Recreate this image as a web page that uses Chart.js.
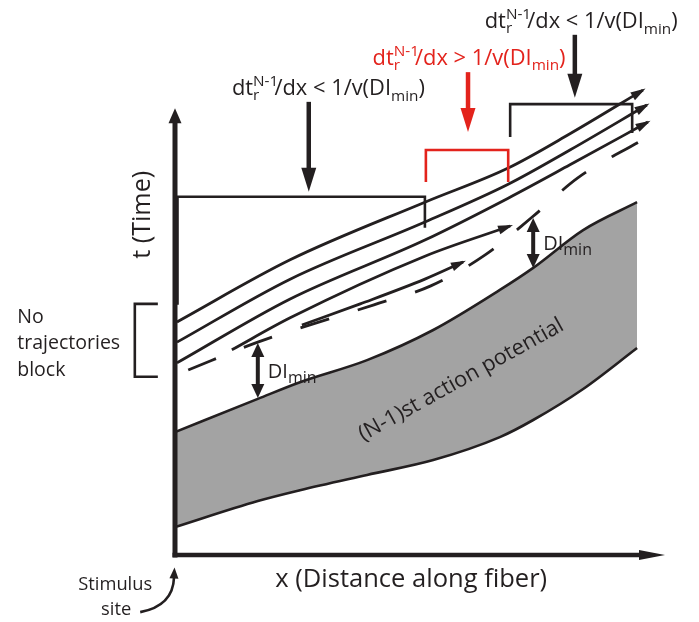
<!DOCTYPE html>
<html>
<head>
<meta charset="utf-8">
<title>Trajectories, DI min</title>
<script src="https://cdn.jsdelivr.net/npm/chart.js@4.4.1/dist/chart.umd.min.js"></script>
<style>
  html, body { margin: 0; padding: 0; background: #fff; }
  #chart { display: block; }
</style>
</head>
<body>
<canvas id="chart" width="699" height="622"></canvas>
<script>
// --- DATA (arbitrary units: x = distance along fiber, t = time) ---

// (N-1)st action potential band
const bandX      = [0, 1.69, 2.55, 3.92, 5.27, 6.63, 7.31, 8.33, 9.43];
const bandTop    = [2.73, 3.47, 3.84, 4.33, 5.00, 5.89, 6.38, 7.22, 7.84];
const bandBottom = [0.62, 1.20, 1.44, 1.78, 2.11, 2.62, 3.00, 3.69, 4.60];

// DI_min boundary (dashed)
const limitX = [0.27, 1.69, 4.06, 5.22, 6.33, 7.29, 8.22, 9.53];
const limitT = [4.11, 4.73, 5.56, 5.98, 6.67, 7.51, 8.38, 9.22];

// trajectories (all end with an arrow)
const trajAX = [0.04, 2.35, 5.10, 6.80, 8.06, 9.55];
const trajAT = [5.18, 6.56, 7.84, 8.60, 9.36, 10.33];
const trajBX = [0.04, 2.35, 5.10, 6.80, 8.06, 9.63];
const trajBT = [4.73, 6.13, 7.40, 8.24, 9.00, 10.00];
const trajCX = [0.04, 2.35, 5.10, 6.80, 8.06, 9.65];
const trajCT = [4.27, 5.69, 7.00, 7.93, 8.67, 9.62];
const trajDX = [1.16, 2.35, 5.10, 6.84];
const trajDT = [4.56, 5.27, 6.64, 7.31];
const trajEX = [2.59, 3.78, 5.10, 5.88];
const trajET = [5.11, 5.58, 6.13, 6.51];

// DI_min double arrows: x, t bottom, t top
const diX      = [1.69, 7.31];
const diBottom = [3.49, 6.38];
const diTop    = [4.71, 7.49];

// --- ESTILO ---
const FONT = '"Open Sans", "DejaVu Sans", sans-serif';
const INK = '#231f20';
const RED = '#e3231c';
const GRAY = '#a3a3a3';

const pts = (xs, ys) => xs.map((x, i) => ({ x: x, y: ys[i] }));

function traj(xs, ys) {
    return {
        data: pts(xs, ys),
        borderColor: INK,
        borderWidth: 2.8,
        pointRadius: 0,
        fill: false,
        cubicInterpolationMode: 'monotone',
        arrowHead: true
    };
}

// --- UTILIDADES DE DIBUJO ---
function head(ctx, tx, ty, dx, dy, len, half, color) {
    const m = Math.hypot(dx, dy) || 1;
    const ux = dx / m, uy = dy / m;
    ctx.fillStyle = color;
    ctx.beginPath();
    ctx.moveTo(tx, ty);
    ctx.lineTo(tx - ux * len - uy * half, ty - uy * len + ux * half);
    ctx.lineTo(tx - ux * len + uy * half, ty - uy * len - ux * half);
    ctx.closePath();
    ctx.fill();
}

function fitSize(ctx, text, width) {
    ctx.font = `20px ${FONT}`;
    return 20 * width / ctx.measureText(text).width;
}

// dt_r^{N-1}/dx < 1/v(DI_min)
function rateLabel(ctx, cx, base, op, color, size, draw) {
    const sm = size * 0.7;
    const rest = '/dx ' + op + ' 1/v(DI';
    ctx.font = `${size}px ${FONT}`;
    const wDt = ctx.measureText('dt').width;
    const wRest = ctx.measureText(rest).width;
    const wClose = ctx.measureText(')').width;
    ctx.font = `${sm}px ${FONT}`;
    const wScript = ctx.measureText('N-1').width * 0.85;
    const wMin = ctx.measureText('min').width;
    const total = wDt + wScript + wRest + wMin + wClose;
    if (!draw) return total;

    let x = cx - total / 2;
    ctx.fillStyle = color;
    ctx.textAlign = 'left';
    ctx.textBaseline = 'alphabetic';
    ctx.font = `${size}px ${FONT}`;
    ctx.fillText('dt', x, base); x += wDt;
    ctx.font = `${sm}px ${FONT}`;
    ctx.fillText('r', x, base + size * 0.22);
    ctx.fillText('N-1', x, base - size * 0.42);
    x += wScript;
    ctx.font = `${size}px ${FONT}`;
    ctx.fillText(rest, x, base); x += wRest;
    ctx.font = `${sm}px ${FONT}`;
    ctx.fillText('min', x, base + size * 0.25); x += wMin;
    ctx.font = `${size}px ${FONT}`;
    ctx.fillText(')', x, base);
    return total;
}

// --- ANOTACIONES (en unidades de datos) ---
const rateLabels = [
    { x: 3.13, t: 10.22, op: '<', color: INK },
    { x: 6.00, t: 10.89, op: '>', color: RED },
    { x: 8.29, t: 11.71, op: '<', color: INK }
];
const downArrows = [
    { x: 2.73, from: 10.07, to: 8.07, color: INK },
    { x: 5.98, from: 10.73, to: 9.40, color: RED },
    { x: 8.16, from: 11.56, to: 10.16, color: INK }
];
const brackets = [
    { xs: [0, 0, 5.10, 5.10], ts: [5.56, 7.96, 7.96, 7.27], color: INK },
    { xs: [5.12, 5.12, 6.80, 6.80], ts: [8.29, 9.00, 9.00, 8.29], color: RED },
    { xs: [6.84, 6.84, 9.33, 9.33], ts: [9.29, 10.02, 10.02, 9.38], color: INK },
    { xs: [-0.35, -0.82, -0.82, -0.35], ts: [5.58, 5.58, 3.96, 3.96], color: INK }
];

const sketchLayer = {
    id: 'sketchLayer',
    afterDatasetsDraw(chart) {
        const ctx = chart.ctx;
        const px = v => chart.scales.x.getPixelForValue(v);
        const py = v => chart.scales.y.getPixelForValue(v);
        ctx.save();
        ctx.lineCap = 'butt';
        ctx.lineJoin = 'miter';

        // puntas de flecha de las trayectorias
        chart.data.datasets.forEach((ds, i) => {
            if (!ds.arrowHead) return;
            const el = chart.getDatasetMeta(i).data;
            const p = el[el.length - 1], q = el[el.length - 2];
            let bx = p.cp1x, by = p.cp1y;
            if (bx === undefined || Math.hypot(p.x - bx, p.y - by) < 1) { bx = q.x; by = q.y; }
            const m = Math.hypot(p.x - bx, p.y - by);
            const ux = (p.x - bx) / m, uy = (p.y - by) / m;
            head(ctx, p.x + ux * 3, p.y + uy * 3, ux, uy, 15, 4.5, INK);
        });

        // corchetes
        brackets.forEach(b => {
            ctx.strokeStyle = b.color;
            ctx.lineWidth = 2.6;
            ctx.beginPath();
            b.xs.forEach((x, i) => {
                const X = px(x) + (x === 0 ? 2.5 : 0);
                if (i === 0) ctx.moveTo(X, py(b.ts[i])); else ctx.lineTo(X, py(b.ts[i]));
            });
            ctx.stroke();
        });

        // flechas verticales superiores
        downArrows.forEach(a => {
            const X = px(a.x), y0 = py(a.from), y1 = py(a.to);
            ctx.strokeStyle = a.color;
            ctx.lineWidth = 4.5;
            ctx.beginPath();
            ctx.moveTo(X, y0);
            ctx.lineTo(X, y1 - 18);
            ctx.stroke();
            head(ctx, X, y1, 0, 1, 24, 7.5, a.color);
        });

        // flechas dobles DI_min
        diX.forEach((x, i) => {
            const X = px(x), yb = py(diBottom[i]), yt = py(diTop[i]);
            ctx.strokeStyle = INK;
            ctx.lineWidth = 4;
            ctx.beginPath();
            ctx.moveTo(X, yt + 10);
            ctx.lineTo(X, yb - 10);
            ctx.stroke();
            head(ctx, X, yt, 0, -1, 14, 6.5, INK);
            head(ctx, X, yb, 0, 1, 14, 6.5, INK);
        });

        // ejes
        ctx.strokeStyle = INK;
        ctx.fillStyle = INK;
        ctx.lineWidth = 5;
        ctx.beginPath();
        ctx.moveTo(px(0), py(0) + 2.5);
        ctx.lineTo(px(0), py(9.93) + 12);
        ctx.stroke();
        head(ctx, px(0), py(9.93), 0, -1, 15, 6.5, INK);
        ctx.lineWidth = 4.5;
        ctx.beginPath();
        ctx.moveTo(px(0) - 2.5, py(0));
        ctx.lineTo(px(10) - 20, py(0));
        ctx.stroke();
        head(ctx, px(10), py(0), 1, 0, 26, 5, INK);

        // flecha curva "Stimulus site"
        ctx.lineWidth = 2.6;
        ctx.beginPath();
        ctx.moveTo(px(-0.71), py(-1.27));
        ctx.quadraticCurveTo(px(-0.04), py(-1.13), px(-0.02), py(-0.50));
        ctx.stroke();
        head(ctx, px(-0.01), py(-0.28), 0.05, -1, 11, 4.5, INK);

        // textos
        const rateSize = 20 * 193 / rateLabel(ctx, 0, 0, '<', INK, 20, false);
        rateLabels.forEach(l => rateLabel(ctx, px(l.x), py(l.t), l.op, l.color, rateSize, true));

        ctx.fillStyle = INK;
        ctx.textBaseline = 'alphabetic';
        ctx.textAlign = 'left';
        diX.forEach((x, i) => {
            const X = px(x) + 10;
            const base = py((diTop[i] + diBottom[i]) / 2) + 7;
            ctx.font = `20px ${FONT}`;
            ctx.fillText('DI', X, base);
            const w = ctx.measureText('DI').width;
            ctx.font = `16px ${FONT}`;
            ctx.fillText('min', X + w, base + 5);
        });

        const noSize = fitSize(ctx, 'trajectories', 103);
        ctx.font = `${noSize}px ${FONT}`;
        ctx.fillText('No', px(-3.22), py(5.16));
        ctx.fillText('trajectories', px(-3.22), py(4.58));
        ctx.fillText('block', px(-3.22), py(3.98));

        ctx.textAlign = 'center';
        const stimSize = fitSize(ctx, 'Stimulus', 74);
        ctx.font = `${stimSize}px ${FONT}`;
        ctx.fillText('Stimulus', px(-1.22), py(-0.78));
        ctx.fillText('site', px(-1.20), py(-1.33));

        ctx.textBaseline = 'middle';
        ctx.font = `${fitSize(ctx, 'x (Distance along fiber)', 272)}px ${FONT}`;
        ctx.fillText('x (Distance along fiber)', px(4.82), py(-0.56));

        ctx.save();
        ctx.translate(px(-0.65), py(7.56));
        ctx.rotate(-Math.PI / 2);
        ctx.font = `${fitSize(ctx, 't (Time)', 88)}px ${FONT}`;
        ctx.fillText('t (Time)', 0, 0);
        ctx.restore();

        ctx.save();
        ctx.translate(px(5.84), py(3.89));
        ctx.rotate(-29 * Math.PI / 180);
        ctx.font = `${fitSize(ctx, '(N-1)st action potential', 231)}px ${FONT}`;
        ctx.fillText('(N-1)st action potential', 0, 0);
        ctx.restore();

        ctx.restore();
    }
};

// --- GRÁFICO ---
const ctx = document.getElementById('chart').getContext('2d');
const chart = new Chart(ctx, {
    type: 'line',
    data: {
        datasets: [
            {
                data: pts(bandX, bandTop),
                borderColor: INK, borderWidth: 2.6, pointRadius: 0,
                cubicInterpolationMode: 'monotone',
                fill: '+1', backgroundColor: GRAY
            },
            {
                data: pts(bandX, bandBottom),
                borderColor: INK, borderWidth: 2.6, pointRadius: 0,
                cubicInterpolationMode: 'monotone',
                fill: false
            },
            {
                data: pts(limitX, limitT),
                borderColor: INK, borderWidth: 2.8, pointRadius: 0,
                cubicInterpolationMode: 'monotone',
                borderDash: [30, 30],
                fill: false
            },
            traj(trajAX, trajAT),
            traj(trajBX, trajBT),
            traj(trajCX, trajCT),
            traj(trajDX, trajDT),
            traj(trajEX, trajET)
        ]
    },
    options: {
        responsive: false,
        animation: false,
        devicePixelRatio: 1,
        layout: { padding: { left: 175, right: 34, top: 15, bottom: 67 } },
        scales: {
            x: { type: 'linear', min: 0, max: 10, display: false },
            y: { type: 'linear', min: 0, max: 12, display: false }
        },
        plugins: {
            legend: { display: false },
            tooltip: { enabled: false },
            filler: { drawTime: 'beforeDatasetsDraw' }
        }
    },
    plugins: [sketchLayer]
});
</script>
</body>
</html>
